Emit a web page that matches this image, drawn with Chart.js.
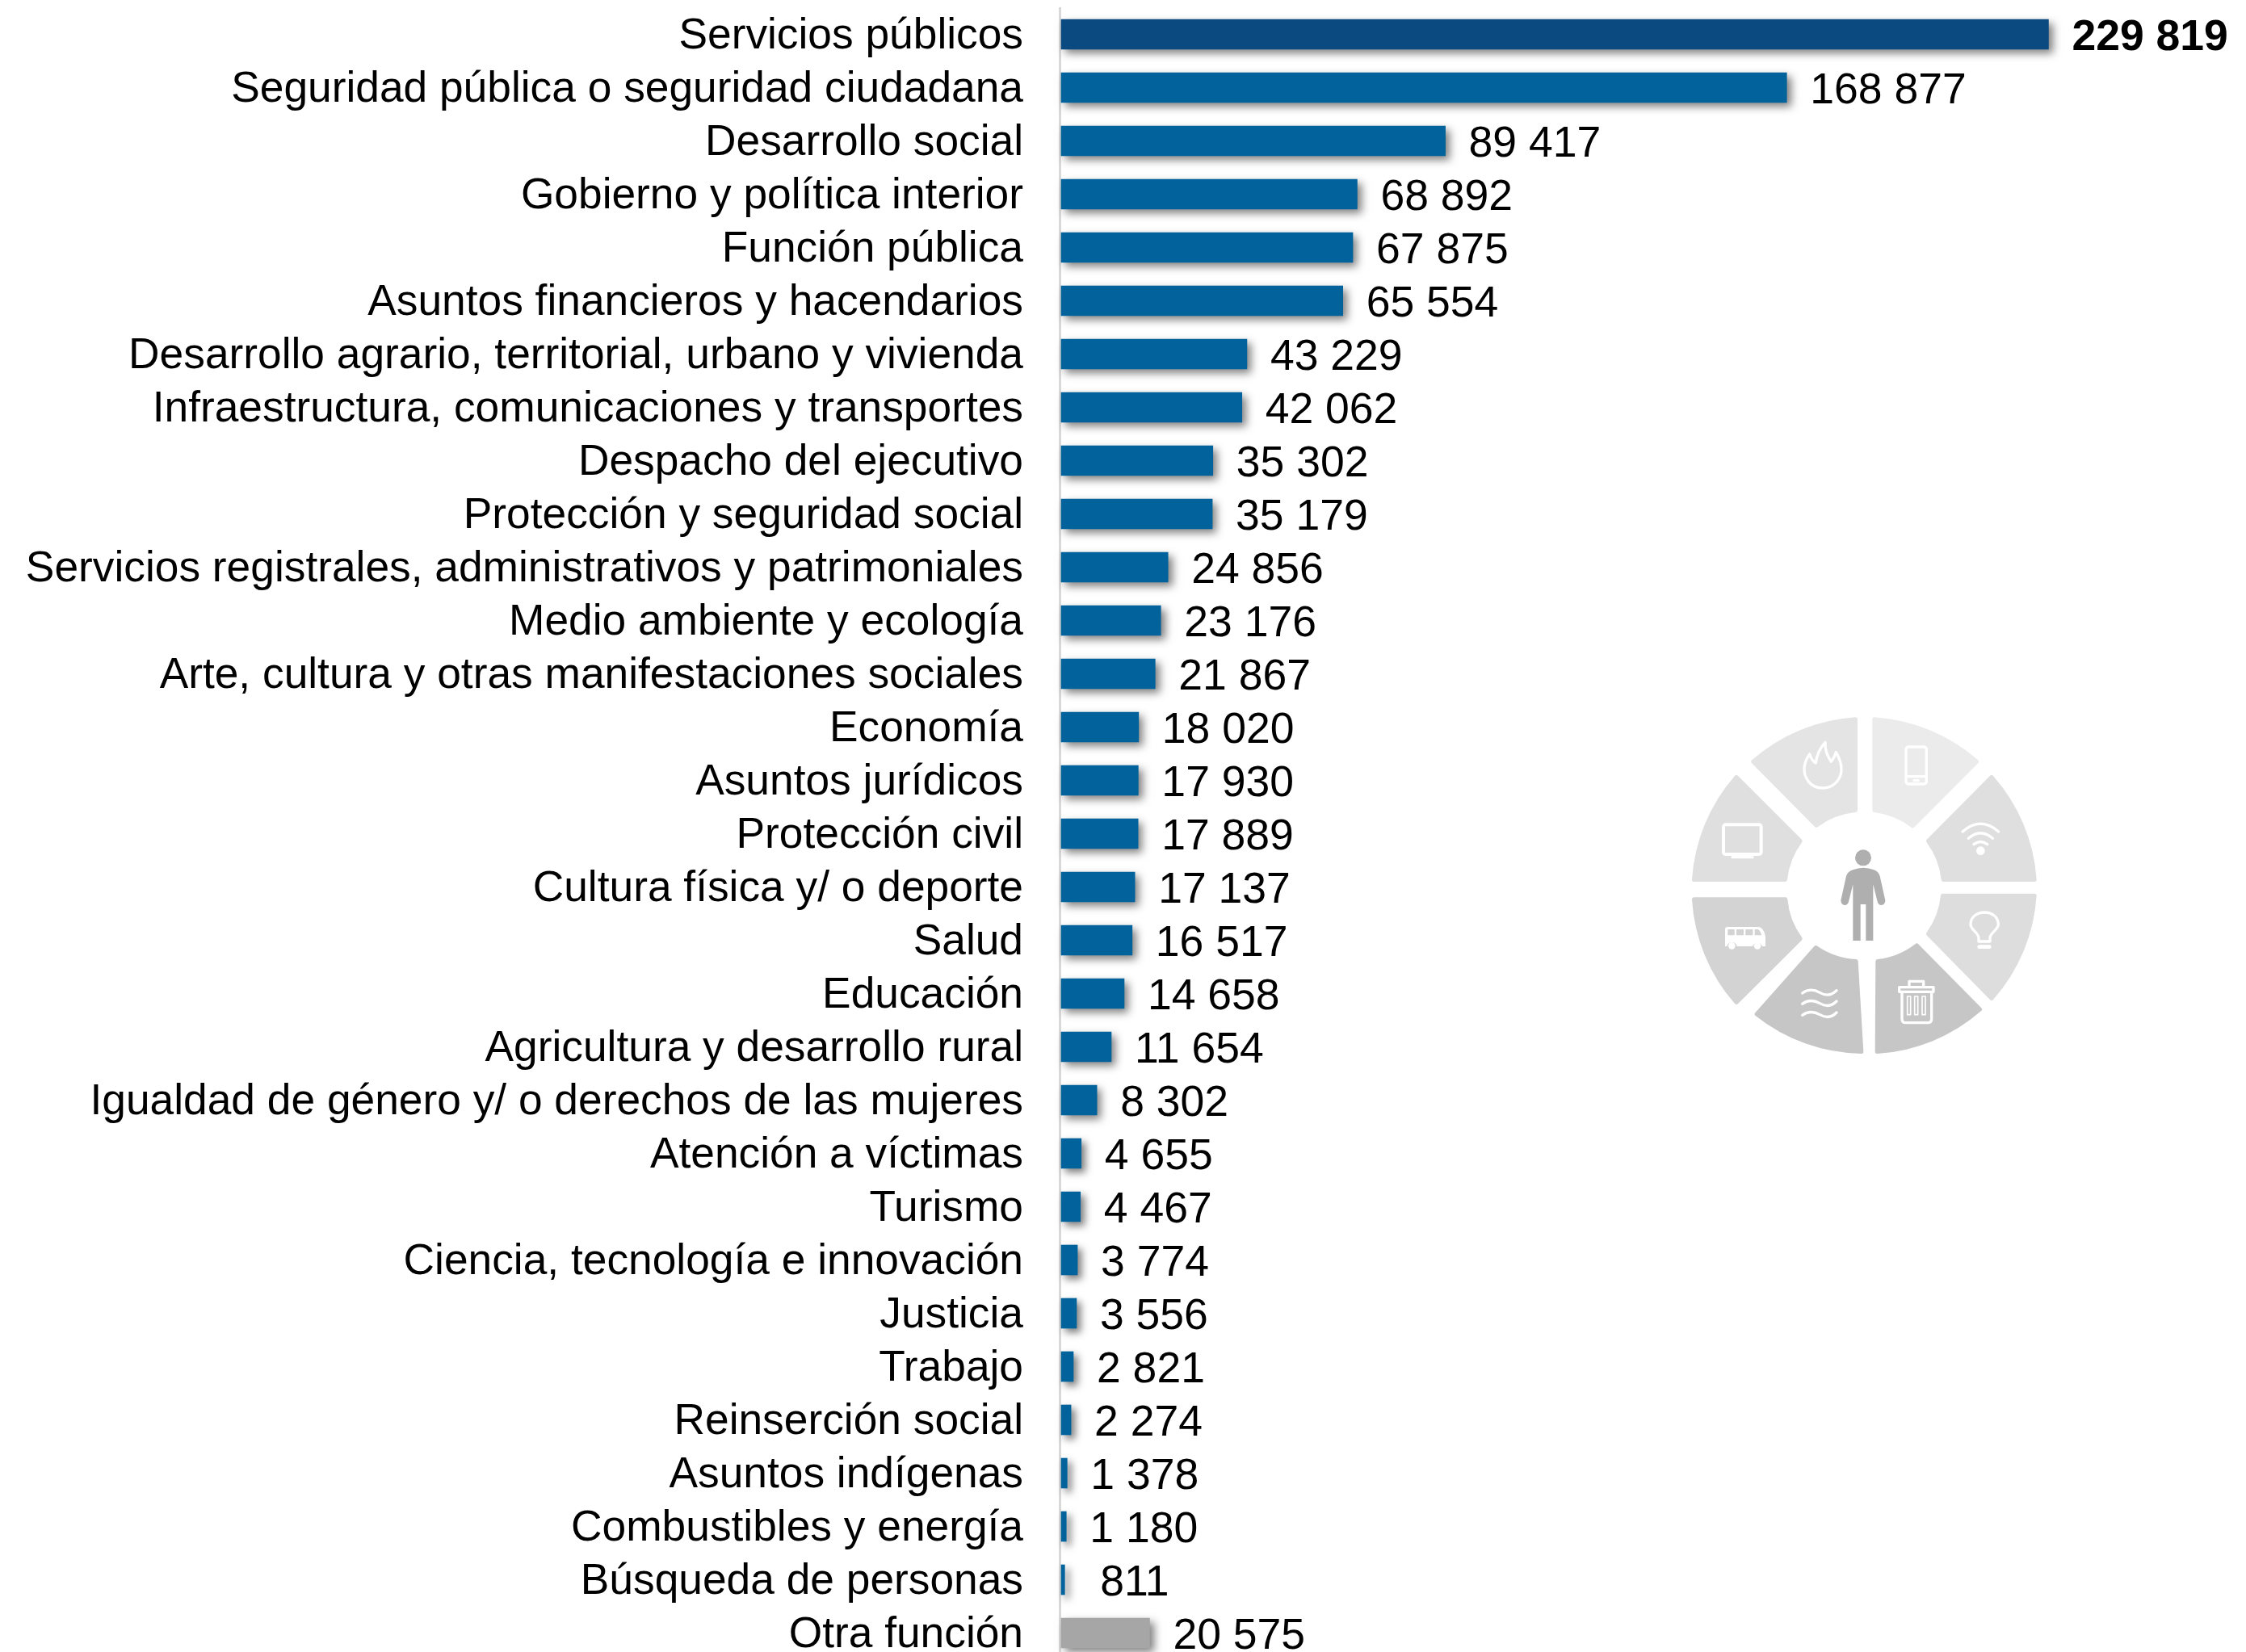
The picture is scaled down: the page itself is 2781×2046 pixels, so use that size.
<!DOCTYPE html>
<html lang="es">
<head>
<meta charset="utf-8">
<title>Funciones</title>
<style>
html,body{margin:0;padding:0;background:#fff;overflow:hidden}
#wrap{position:relative;width:2781px;height:2046px}
canvas{display:block}
#icon{position:absolute;left:2060px;top:860px;width:500px;height:470px}
</style>
<script src="https://cdn.jsdelivr.net/npm/chart.js@4/dist/chart.umd.js"></script>
</head>
<body>
<div id="wrap">
<canvas id="c" width="2781" height="2046"></canvas>
<svg id="icon" viewBox="0 0 1500 1410" xmlns="http://www.w3.org/2000/svg">
  <g stroke-width="16" stroke-linejoin="round">
    <path fill="#EBEBEB" stroke="#EBEBEB" d="M783 93A640 640 0 0 1 1162 250L925 488A290 290 0 0 0 783 430Z"/>
    <path fill="#E4E4E4" stroke="#E4E4E4" d="M712 93A640 640 0 0 0 333 250L567 486A290 290 0 0 1 712 430Z"/>
    <path fill="#DFDFDF" stroke="#DFDFDF" d="M270 308A640 640 0 0 0 113 688L451 688A290 290 0 0 1 507 545Z"/>
    <path fill="#DFDFDF" stroke="#DFDFDF" d="M1218 308A640 640 0 0 1 1377 688L1039 688A290 290 0 0 0 983 545Z"/>
    <path fill="#DDDDDD" stroke="#DDDDDD" d="M1377 748A640 640 0 0 1 1218 1129L983 890A290 290 0 0 0 1037 748Z"/>
    <path fill="#D3D3D3" stroke="#D3D3D3" d="M113 762A640 640 0 0 0 270 1144L507 908A290 290 0 0 1 452 762Z"/>
    <path fill="#C6C6C6" stroke="#C6C6C6" d="M565 941A290 290 0 0 0 714 992L734 1327A640 640 0 0 1 346 1188Z"/>
    <path fill="#C6C6C6" stroke="#C6C6C6" d="M795 992A290 290 0 0 0 940 933L1174 1170A640 640 0 0 1 793 1327Z"/>
  </g>
  <g fill="#AFAFAF">
    <circle cx="741" cy="607" r="30"/>
    <path d="M703 652Q741 636 781 652Q798 658 803 675L823 765Q823 782 808 783Q797 782 794 770L778 706V915H751V780H731V915H703V706L687 770Q684 782 673 783Q658 782 658 765L678 675Q683 658 703 652Z"/>
  </g>
  <g fill="none" stroke="#FFFFFF" stroke-width="10" stroke-linecap="round" stroke-linejoin="round">
    <rect x="900" y="195" width="76" height="138" rx="10"/>
    <path d="M902 305H974M930 320H946"/>
    <path d="M590 348C545 348 520 310 522 272C525 250 532 235 542 222C548 240 556 250 565 255C568 225 580 200 600 178C598 205 612 235 622 250C630 240 636 228 640 215C655 240 662 260 660 285C655 320 630 348 590 348Z"/>
    <rect x="222" y="484" width="140" height="110" rx="8" stroke-width="12"/>
    <path d="M255 605H330"/>
    <path d="M1110 510Q1177 452 1244 510M1132 535Q1177 495 1222 535M1152 557Q1177 538 1202 557"/>
    <path d="M1170 918H1212V905C1212 885 1243 875 1243 855C1243 795 1140 795 1140 855C1140 875 1170 885 1170 905Z"/>
    <path d="M1172 938H1210" stroke-width="14"/>
    <path d="M875 1105H1002V1088H875ZM912 1088V1066H965V1088M885 1105V1205Q885 1220 900 1220H980Q995 1220 995 1205V1105"/>
    <path d="M905 1122V1190H917V1122ZM932 1122V1190H944V1122ZM960 1122V1190H972V1122Z" stroke-width="5"/>
    <path d="M515 1110Q545 1088 580 1108Q615 1128 642 1100M515 1150Q545 1128 580 1148Q615 1168 642 1140M515 1192Q545 1170 580 1190Q615 1210 642 1182"/>
  </g>
  <path fill="#FFFFFF" fill-rule="evenodd" d="M228 872Q228 864 238 864H352Q372 866 378 900V936H366A19 19 0 0 0 330 936H272A19 19 0 0 0 235 936H228ZM238 873V895H263V873ZM270 873V895H297V873ZM304 873V895H331V873ZM338 873V895H363Q360 878 350 873Z"/>
  <g fill="#FFFFFF">
    <circle cx="1177" cy="581" r="16"/>
    <circle cx="253" cy="934" r="13"/><circle cx="348" cy="934" r="13"/>
  </g>
</svg>
</div>
<script>
const categories = [
  "Servicios públicos","Seguridad pública o seguridad ciudadana","Desarrollo social",
  "Gobierno y política interior","Función pública","Asuntos financieros y hacendarios",
  "Desarrollo agrario, territorial, urbano y vivienda","Infraestructura, comunicaciones y transportes",
  "Despacho del ejecutivo","Protección y seguridad social","Servicios registrales, administrativos y patrimoniales",
  "Medio ambiente y ecología","Arte, cultura y otras manifestaciones sociales","Economía","Asuntos jurídicos",
  "Protección civil","Cultura física y/ o deporte","Salud","Educación","Agricultura y desarrollo rural",
  "Igualdad de género y/ o derechos de las mujeres","Atención a víctimas","Turismo",
  "Ciencia, tecnología e innovación","Justicia","Trabajo","Reinserción social","Asuntos indígenas",
  "Combustibles y energía","Búsqueda de personas","Otra función"
];
const values = [229819,168877,89417,68892,67875,65554,43229,42062,35302,35179,24856,23176,21867,18020,17930,17889,17137,16517,14658,11654,8302,4655,4467,3774,3556,2821,2274,1378,1180,811,20575];
const barColors = ["#0B4A80"].concat(Array(29).fill("#02629B"), ["#A6A6A6"]);
const AXIS_MAX = 275800;
const FONT = '"Liberation Sans", Arial, sans-serif';
const TICK_SIZE = 53.3;
const VALUE_SIZE = 53.5;

function fmt(v){
  const t = Math.floor(v/1000), r = String(v%1000).padStart(3,"0");
  return t > 0 ? t + " " + r : " " + (v%1000);
}

const barShadow = {
  id:"barShadow",
  beforeDatasetsDraw(chart){
    const c = chart.ctx; c.save();
    c.shadowColor = "rgba(0,0,0,0.5)"; c.shadowBlur = 10; c.shadowOffsetX = 5; c.shadowOffsetY = 5;
  },
  afterDatasetsDraw(chart){ chart.ctx.restore(); }
};
const axisLine = {
  id:"axisLine",
  beforeDatasetsDraw(chart){
    const c = chart.ctx, x = chart.scales.x.getPixelForValue(0);
    c.save(); c.strokeStyle = "#D9D9D9"; c.lineWidth = 3;
    c.beginPath(); c.moveTo(x-1.5, 9); c.lineTo(x-1.5, chart.height); c.stroke(); c.restore();
  }
};
const valueLabels = {
  id:"valueLabels",
  afterDatasetsDraw(chart){
    const c = chart.ctx, meta = chart.getDatasetMeta(0);
    c.save(); c.fillStyle = "#000"; c.textAlign = "left"; c.textBaseline = "alphabetic";
    meta.data.forEach((bar,i)=>{
      c.font = (i===0 ? "bold " : "") + VALUE_SIZE + "px " + FONT;
      c.fillText(fmt(values[i]), bar.x + 29, bar.y + 19.5);
    });
    c.restore();
  }
};

new Chart(document.getElementById("c"), {
  type:"bar",
  data:{labels:categories,datasets:[{data:values,backgroundColor:barColors,barThickness:37,clip:false,borderWidth:0}]},
  plugins:[axisLine,barShadow,valueLabels],
  options:{
    indexAxis:"y",responsive:false,animation:false,
    layout:{padding:{top:42.5,bottom:23.5,left:0,right:0}},
    plugins:{legend:{display:false},tooltip:{enabled:false}},
    scales:{
      x:{display:false,min:0,max:AXIS_MAX,grid:{display:false}},
      y:{
        offset:false,
        grid:{display:false},border:{display:false},
        afterFit(s){
          s.width=1314;s.paddingTop=0;s.paddingBottom=0;
          if(!s._labelShift){
            s._labelShift=true;
            const draw=s.drawLabels;
            s.drawLabels=function(area){
              const c=this.ctx;c.save();c.translate(0,2.5);draw.call(this,area);c.restore();
            };
          }
        },
        ticks:{autoSkip:false,color:"#000",padding:39,font:{family:FONT,size:TICK_SIZE}}
      }
    }
  }
});
</script>
</body>
</html>
